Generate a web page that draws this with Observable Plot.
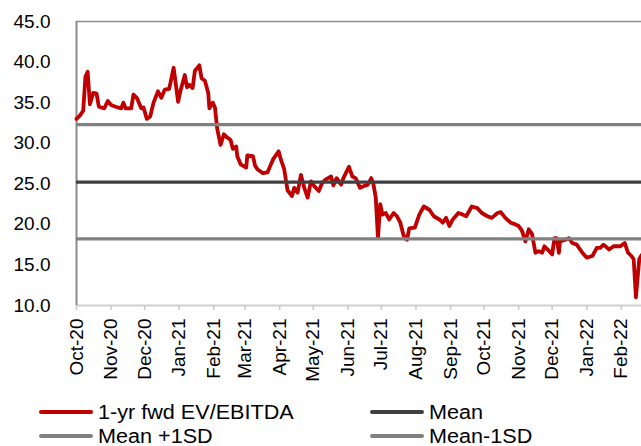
<!DOCTYPE html>
<html>
<head>
<meta charset="utf-8">
<script src="https://cdn.jsdelivr.net/npm/d3@7"></script>
<script src="https://cdn.jsdelivr.net/npm/@observablehq/plot@0.6"></script>
<style>
  html, body { margin: 0; padding: 0; background: #fff; }
  body { width: 641px; height: 446px; overflow: hidden; font-family: "Liberation Sans", Arial, sans-serif; }
  #legend { position: relative; height: 46px; font-size: 20px; color: #000; }
  .item { position: absolute; display: flex; align-items: center; height: 22px; white-space: nowrap; }
  .sw { display: inline-block; width: 54px; height: 4px; margin-right: 5px; border-radius: 2px; }
  .lt { display: inline-block; transform: scaleX(1.08); transform-origin: left center; }
</style>
</head>
<body>
<div id="chart"></div>
<div id="legend"></div>
<script>
const dates = [
"2020-10-01","2020-10-04","2020-10-07","2020-10-09","2020-10-11","2020-10-13","2020-10-16","2020-10-19","2020-10-21","2020-10-26","2020-10-29",
"2020-11-01","2020-11-05","2020-11-10","2020-11-12","2020-11-14","2020-11-19","2020-11-21","2020-11-24","2020-11-28","2020-11-30",
"2020-12-03","2020-12-06","2020-12-09","2020-12-13","2020-12-16","2020-12-19","2020-12-23","2020-12-27","2020-12-31",
"2021-01-02","2021-01-06","2021-01-08","2021-01-10","2021-01-13","2021-01-15","2021-01-19","2021-01-21","2021-01-24","2021-01-27","2021-01-28","2021-01-31",
"2021-02-02","2021-02-04","2021-02-07","2021-02-10","2021-02-13","2021-02-16","2021-02-18","2021-02-21","2021-02-22","2021-02-25",
"2021-03-02","2021-03-03","2021-03-08","2021-03-10","2021-03-12","2021-03-17","2021-03-21","2021-03-26","2021-03-31",
"2021-04-02","2021-04-05","2021-04-08","2021-04-12","2021-04-14","2021-04-17","2021-04-20","2021-04-23","2021-04-26","2021-04-29",
"2021-05-02","2021-05-06","2021-05-09","2021-05-12","2021-05-17","2021-05-19","2021-05-22","2021-05-26","2021-05-28",
"2021-06-02","2021-06-05","2021-06-08","2021-06-12","2021-06-15","2021-06-19","2021-06-22","2021-06-24","2021-06-26","2021-06-28","2021-06-30",
"2021-07-02","2021-07-05","2021-07-08","2021-07-12","2021-07-15","2021-07-18","2021-07-21","2021-07-24","2021-07-26","2021-07-31",
"2021-08-04","2021-08-08","2021-08-13","2021-08-17","2021-08-22","2021-08-25","2021-08-28","2021-08-31",
"2021-09-03","2021-09-08","2021-09-12","2021-09-15","2021-09-20","2021-09-25","2021-09-29",
"2021-10-04","2021-10-08","2021-10-13","2021-10-16","2021-10-20","2021-10-25","2021-10-29",
"2021-11-01","2021-11-04","2021-11-07","2021-11-10","2021-11-13","2021-11-16","2021-11-19","2021-11-22","2021-11-24","2021-11-27",
"2021-12-01","2021-12-03","2021-12-05","2021-12-07","2021-12-08","2021-12-13","2021-12-16","2021-12-19","2021-12-23","2021-12-28",
"2022-01-01","2022-01-06","2022-01-10","2022-01-13","2022-01-16","2022-01-21","2022-01-25","2022-01-31",
"2022-02-04","2022-02-07","2022-02-10","2022-02-12","2022-02-14","2022-02-17","2022-02-19"
];
const evEbitda = [
33.0, 33.4, 34.0, 38.2, 38.8, 34.8, 36.2, 36.1, 34.5, 34.3, 35.2,
34.7, 34.5, 34.3, 35.0, 34.3, 34.3, 36.0, 35.6, 34.3, 34.4,
33.0, 33.3, 35.0, 36.4, 35.6, 36.6, 36.7, 39.3, 35.1,
36.4, 38.4, 36.9, 37.2, 36.8, 38.9, 39.6, 38.0, 37.7, 36.2, 34.3, 35.0,
34.4, 31.8, 29.8, 31.1, 30.7, 30.4, 29.3, 29.6, 28.4, 27.4,
27.0, 28.5, 28.4, 27.2, 26.8, 26.3, 26.4, 28.0, 29.0,
28.0, 26.8, 24.2, 23.5, 24.5, 23.9, 26.1, 24.5, 23.3, 25.3,
24.7, 24.1, 25.1, 25.5, 25.9, 24.8, 25.7, 24.9, 25.7,
27.1, 25.9, 25.7, 24.5, 24.7, 24.9, 25.7, 24.9, 23.3, 18.3, 22.5,
21.2, 21.4, 20.6, 21.4, 21.0, 20.2, 18.6, 18.1, 19.5, 19.6,
21.2, 22.2, 21.8, 21.0, 20.6, 20.2, 20.8, 19.8,
20.6, 21.4, 21.2, 21.0, 22.2, 22.0, 21.4,
21.0, 20.8, 21.4, 21.5, 20.8, 20.2, 20.0,
19.8, 19.2, 17.9, 19.4, 18.8, 16.5, 16.7, 16.5, 17.3, 16.9,
16.3, 18.3, 18.3, 16.5, 17.9, 18.1, 18.3, 17.7, 17.5, 16.5,
15.9, 16.1, 17.1, 17.1, 17.5, 16.9, 17.3, 17.3,
17.7, 16.5, 16.1, 15.7, 11.0, 15.7, 16.2
];
const statNames = ["Mean", "Mean +1SD", "Mean-1SD"];
const statValues = [25.2, 32.3, 18.2];
const seriesName = "1-yr fwd EV/EBITDA";
const yTicks = [10, 15, 20, 25, 30, 35, 40, 45];
const monthTickDates = ["2020-10-01","2020-11-01","2020-12-01","2021-01-01","2021-02-01","2021-03-01","2021-04-01","2021-05-01","2021-06-01","2021-07-01","2021-08-01","2021-09-01","2021-10-01","2021-11-01","2021-12-01","2022-01-01","2022-02-01"];
const monthLabels = ["Oct-20","Nov-20","Dec-20","Jan-21","Feb-21","Mar-21","Apr-21","May-21","Jun-21","Jul-21","Aug-21","Sep-21","Oct-21","Nov-21","Dec-21","Jan-22","Feb-22"];

const data = dates.map((d, i) => ({date: new Date(d), value: evEbitda[i]}));
const tickDates = monthTickDates.map(d => new Date(d));
const labelOf = new Map(tickDates.map((d, i) => [+d, monthLabels[i]]));
const stats = statNames.map((n, i) => ({name: n, value: statValues[i]}));
const statColor = {"Mean": "#404040", "Mean +1SD": "#808080", "Mean-1SD": "#808080"};
const x0 = data[0].date, x1 = data[data.length - 1].date;

const chart = Plot.plot({
  width: 641,
  height: 400,
  marginLeft: 76,
  marginRight: 0,
  marginTop: 21,
  marginBottom: 95,
  style: {fontFamily: "'Liberation Sans', Arial, sans-serif", fontSize: "19px", color: "#000", background: "#fff", overflow: "visible"},
  x: {type: "utc", domain: [x0, x1]},
  y: {domain: [10, 45]},
  marks: [
    Plot.axisY({ticks: yTicks, tickFormat: d => d.toFixed(1), tickSize: 0, tickPadding: 26, fontSize: 19, label: null}),
    Plot.axisX({ticks: tickDates, tickFormat: d => labelOf.get(+d), tickRotate: -90, tickSize: 5, tickPadding: 8, stroke: "#c8c8c8", strokeWidth: 1.5, fontSize: 19, label: null}),
    Plot.ruleY([10], {stroke: "#d0d0d0", strokeWidth: 2}),
    Plot.ruleY([45], {stroke: "#8c8c8c", strokeWidth: 1.5}),
    Plot.ruleX([x0], {stroke: "#8c8c8c", strokeWidth: 2}),
    Plot.lineY(data, {x: "date", y: "value", stroke: "#C00000", strokeWidth: 3.8, strokeLinejoin: "round", strokeLinecap: "round"}),
    Plot.ruleY(stats, {y: "value", stroke: d => statColor[d.name], strokeWidth: 3.2})
  ]
});
document.getElementById("chart").appendChild(chart);

const legendItems = [
  {name: seriesName, color: "#C00000", left: 39, top: 1},
  {name: statNames[0], color: statColor[statNames[0]], left: 370, top: 1},
  {name: statNames[1], color: statColor[statNames[1]], left: 39, top: 25},
  {name: statNames[2], color: statColor[statNames[2]], left: 370, top: 25}
];
const legend = document.getElementById("legend");
for (const it of legendItems) {
  const el = document.createElement("div");
  el.className = "item";
  el.style.left = it.left + "px";
  el.style.top = it.top + "px";
  el.innerHTML = `<span class="sw" style="background:${it.color}"></span><span class="lt">${it.name}</span>`;
  legend.appendChild(el);
}
</script>
</body>
</html>
